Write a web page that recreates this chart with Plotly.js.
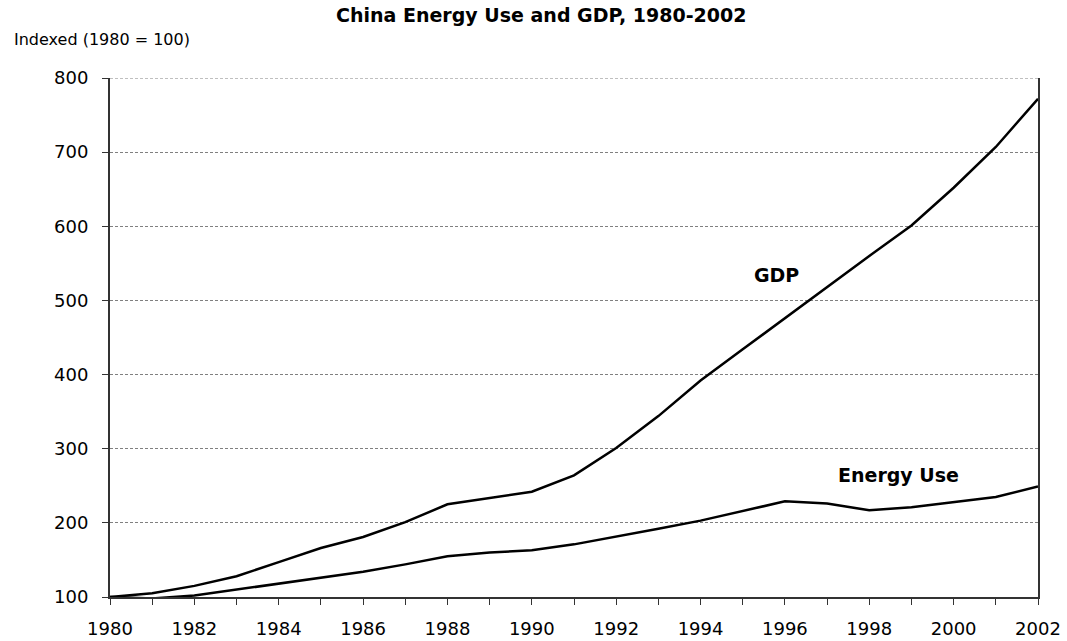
<!DOCTYPE html>
<html>
<head>
<meta charset="utf-8">
<script src="https://cdn.plot.ly/plotly-3.0.1.min.js"></script>
<style>html,body{margin:0;padding:0;background:#fff;}#chart{width:1067px;height:641px;}</style>
</head>
<body>
<div id="chart"></div>
<script>
const years = [1980,1981,1982,1983,1984,1985,1986,1987,1988,1989,1990,1991,1992,1993,1994,1995,1996,1997,1998,1999,2000,2001,2002];
const gdp = [100,105,115,128,147,166,181,201,225,233,242,264,301,344,392,434,476,519,560,601,652,707,772];
const energyUse = [100,98,102,110,117,126,134,144,155,160,163,171,181,192,203,216,229,226,217,221,228,235,249];
const title = "China Energy Use and GDP, 1980-2002";
const yLabel = "Indexed (1980 = 100)";

const font = "'DejaVu Sans', sans-serif";
const traces = [
  {x: years, y: gdp, name: "GDP", type: "scatter", mode: "lines", line: {color: "#000", width: 2.5}},
  {x: years, y: energyUse, name: "Energy Use", type: "scatter", mode: "lines", line: {color: "#000", width: 2.5}}
];
const layout = {
  width: 1067, height: 641,
  margin: {l: 110, r: 29, t: 78, b: 44},
  paper_bgcolor: "#fff", plot_bgcolor: "#fff",
  showlegend: false,
  font: {family: font, color: "#000", size: 18},
  xaxis: {
    range: [1980, 2002], dtick: 2, tick0: 1980,
    showline: true, linecolor: "#333", linewidth: 2,
    ticks: "outside", ticklen: 6, tickcolor: "#333", tickwidth: 1,
    minor: {dtick: 1, ticks: "outside", ticklen: 6, tickcolor: "#333", showgrid: false},
    showgrid: false, zeroline: false,
    ticklabelstandoff: 8,
    tickfont: {size: 18, family: font, color: "#000"}
  },
  yaxis: {
    range: [100, 800], dtick: 100,
    showline: true, linecolor: "#333", linewidth: 2, mirror: true,
    ticks: "outside", ticklen: 6, tickcolor: "#333",
    showgrid: true, gridcolor: "#808080", griddash: "3px,2px", gridwidth: 1,
    zeroline: false,
    ticklabelstandoff: 10,
    tickfont: {size: 18, family: font, color: "#000"}
  },
  shapes: [
    {type: "line", xref: "paper", yref: "y", x0: 0, x1: 1, y0: 800, y1: 800, line: {color: "#808080", width: 1, dash: "3px,2px"}}
  ],
  annotations: [
    {xref: "paper", yref: "paper", x: 0.4644, y: 1.1214, xanchor: "center", yanchor: "middle", text: "<b>" + title + "</b>", showarrow: false, font: {size: 19, family: font, color: "#000"}},
    {xref: "paper", yref: "paper", x: -0.1056, y: 1.0751, xanchor: "left", yanchor: "middle", text: yLabel, showarrow: false, font: {size: 16, family: font, color: "#000"}},
    {xref: "x", yref: "y", x: 1995.8, y: 534, text: "<b>GDP</b>", showarrow: false, font: {size: 19, family: font, color: "#000"}},
    {xref: "x", yref: "y", x: 1998.7, y: 265, text: "<b>Energy Use</b>", showarrow: false, font: {size: 19, family: font, color: "#000"}}
  ]
};
Plotly.newPlot("chart", traces, layout, {displayModeBar: false, staticPlot: true});
</script>
</body>
</html>
